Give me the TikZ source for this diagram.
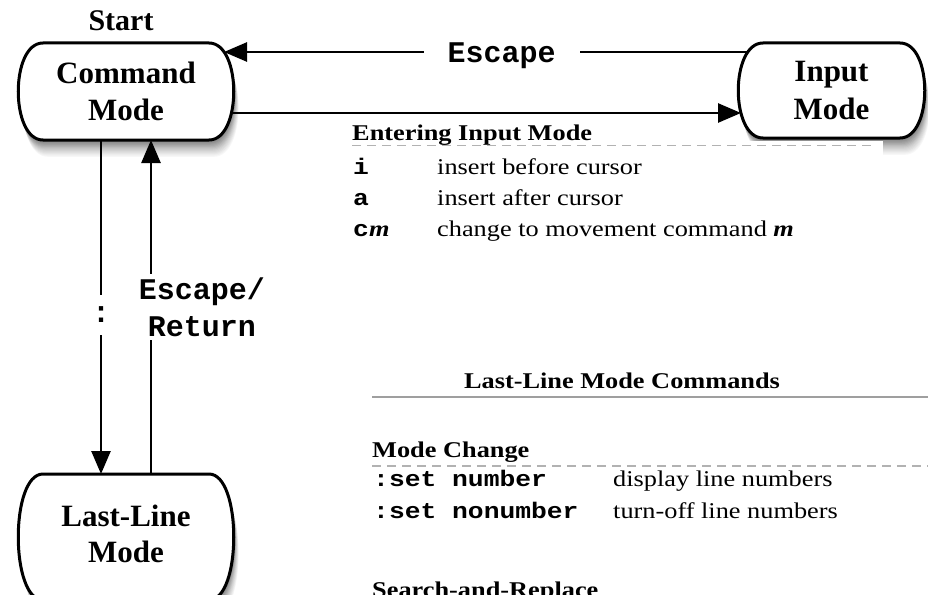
\documentclass[tikz,border=0pt]{standalone}
\usepackage{fontspec}
\setmainfont{Liberation Serif}
\setmonofont{Liberation Mono}
\usetikzlibrary{calc,arrows.meta}
\newcommand\tb[1]{\scalebox{1.17}[1]{#1}}
% #1 cx, #2 cy, #3 width, #4 height, #5 dx, #6 dy (down)
\newcommand\boxpath[6]{({#1-#3/2+25+#5},{#2-#4/2+#6}) -- ({#1+#3/2-25+#5},{#2-#4/2+#6}) .. controls ({#1+#3/2+8+#5},{#2-#4/2+#6}) and ({#1+#3/2+8+#5},{#2+#4/2+#6}) .. ({#1+#3/2-25+#5},{#2+#4/2+#6}) -- ({#1-#3/2+25+#5},{#2+#4/2+#6}) .. controls ({#1-#3/2-8+#5},{#2+#4/2+#6}) and ({#1-#3/2-8+#5},{#2-#4/2+#6}) .. cycle}
\newcommand\shd[7]{\fill[black!#5] \boxpath{#1}{#2}{#3}{#4}{#6}{#7};}
\newcommand\modeshape[4]{%
 \shd{#1}{#2}{#3}{#4}{3}{4.9}{16.8}\shd{#1}{#2}{#3}{#4}{6}{4.55}{15.6}\shd{#1}{#2}{#3}{#4}{9}{4.2}{14.4}%
 \shd{#1}{#2}{#3}{#4}{12}{3.85}{13.2}\shd{#1}{#2}{#3}{#4}{15}{3.5}{12}\shd{#1}{#2}{#3}{#4}{18}{3.15}{10.8}%
 \shd{#1}{#2}{#3}{#4}{22}{2.8}{9.6}\shd{#1}{#2}{#3}{#4}{26}{2.45}{8.4}\shd{#1}{#2}{#3}{#4}{30}{2.1}{7.2}%
 \shd{#1}{#2}{#3}{#4}{34}{1.75}{6}\shd{#1}{#2}{#3}{#4}{38}{1.4}{4.8}\shd{#1}{#2}{#3}{#4}{42}{1.05}{3.6}%
 \shd{#1}{#2}{#3}{#4}{46}{0.7}{2.4}\shd{#1}{#2}{#3}{#4}{50}{0.35}{1.2}%
 \filldraw[fill=white,draw=black,line width=3pt] \boxpath{#1}{#2}{#3}{#4}{0}{0};}
\tikzset{
 modenode/.style={font={\fontsize{31}{37.5}\selectfont\bfseries}, align=center, outer sep=0pt, inner sep=0pt},
 startlbl/.style={font={\fontsize{30}{36}\selectfont\bfseries}, inner sep=0pt},
 arr/.style={line width=2.6pt, -{Triangle[length=23pt,width=19pt]}},
 lbl/.style={font={\ttfamily\bfseries\fontsize{30}{37}\selectfont}, fill=white, align=center},
 tabtext/.style={anchor=base west, inner sep=0pt, font={\fontsize{22.5}{26}\selectfont}},
 tabhead/.style={tabtext, font={\fontsize{22.5}{26}\selectfont\bfseries}},
 dashrule/.style={draw=gray!60, line width=1.3pt, dash pattern=on 9pt off 6pt},
 solidrule/.style={draw=gray!75, line width=2pt},
}
\begin{document}
\begin{tikzpicture}[x=1pt,y=-1pt]
\useasboundingbox (0,0) rectangle (928,594);
% box outlines with shadows
\modeshape{126}{91.5}{216}{97}
\modeshape{831.5}{90.5}{187}{95}
\modeshape{126}{537}{216}{126}
% white backing of the table image
\fill[white] (345,140.5) rectangle (883,250);
% mode nodes
\node[startlbl] (start) at (121,21) {Start};
\node[modenode, minimum width=216pt, minimum height=97pt] (cmd) at (126,91.5) {Command\\Mode};
\node[modenode, minimum width=187pt, minimum height=95pt] (inp) at (831.5,90.5) {Input\\Mode};
\node[modenode, minimum width=216pt, minimum height=126pt] (ll) at (126,537) {\raisebox{2pt}{\begin{tabular}{@{}c@{}}Last-Line\\[-1.5pt]Mode\end{tabular}}};
% connectors
\draw[arr] ([xshift=10pt,yshift=-9pt]inp.north west) -- node[lbl, pos=0.47, inner xsep=24pt, yshift=-4pt] (esc) {Escape} ([xshift=-10pt,yshift=-9pt]cmd.north east);
\draw[arr] ([xshift=-3pt,yshift=27pt]cmd.south east) -- ([xshift=3pt,yshift=25pt]inp.south west);
\draw[arr] ([xshift=-25pt]cmd.south) -- node[lbl, pos=0.524, minimum height=40pt, inner xsep=2pt] (colon) {:} ([xshift=-25pt]ll.north);
\draw[arr] ([xshift=25pt]ll.north) -- node[lbl, pos=0.5, xshift=51pt, inner xsep=2pt] (escret) {Escape/\\Return} ([xshift=25pt]cmd.south);
% table 1
\node[tabhead] (t1h) at (352,140) {\tb{Entering Input Mode}};
\draw[dashrule] (352,145.5) -- (872,145.5);
\node[tabtext] (t1a) at (353,174) {\tb{\texttt{\bfseries i}}};
\node[tabtext] (t1ad) at (437,174) {\tb{insert before cursor}};
\node[tabtext] (t1b) at (353,205) {\tb{\texttt{\bfseries a}}};
\node[tabtext] (t1bd) at (437,205) {\tb{insert after cursor}};
\node[tabtext] (t1c) at (353,236) {\tb{\texttt{\bfseries c}\textbf{\itshape m}}};
\node[tabtext] (t1cd) at (437,236) {\tb{change to movement command \textbf{\itshape m}}};
% table 2
\node[tabhead, anchor=base] (t2h) at (622,388) {\tb{Last-Line Mode Commands}};
\draw[solidrule] (372,397) -- (928,397);
\node[tabhead] (t2s) at (372,457) {\tb{Mode Change}};
\draw[dashrule] (372,466) -- (928,466);
\node[tabtext] (t2a) at (373,486) {\tb{\texttt{\bfseries :set number}}};
\node[tabtext] (t2ad) at (613,486) {\tb{display line numbers}};
\node[tabtext] (t2b) at (373,518) {\tb{\texttt{\bfseries :set nonumber}}};
\node[tabtext] (t2bd) at (613,518) {\tb{turn-off line numbers}};
\node[tabhead] (t2r) at (372,597) {\tb{Search-and-Replace}};
\end{tikzpicture}
\end{document}
